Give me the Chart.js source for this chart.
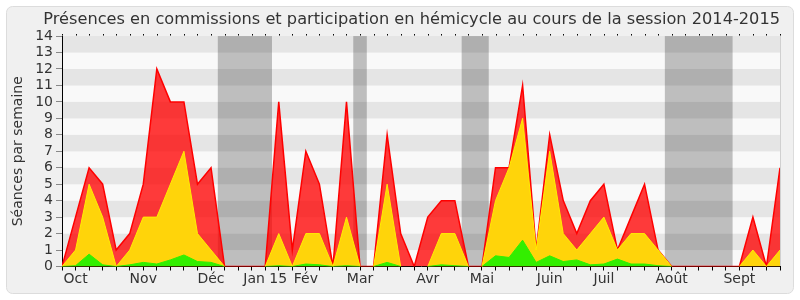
<!DOCTYPE html>
<html>
<head>
<meta charset="utf-8">
<script src="https://cdn.jsdelivr.net/npm/chart.js@4/dist/chart.umd.min.js"></script>
<style>
html,body{margin:0;padding:0;background:#fff;}
canvas{display:block;}
</style>
</head>
<body>
<canvas id="c" width="800" height="300"></canvas>
<script>
// ---- data ----
const weekIndex = Array.from({length: 54}, (_, i) => i);
const monthLabels = {1:'Oct', 6:'Nov', 11:'Déc', 15:'Jan 15', 18:'Fév', 22:'Mar', 27:'Avr', 31:'Mai', 36:'Juin', 40:'Juil', 45:'Août', 50:'Sept'};
const totalSeances = [0,3,6,5,1,2,5,12,10,10,5,6,0,0,0,0,10,1,7,5,0,10,0,0,8,2,0,3,4,4,0,0,6,6,11,1,8,4,2,4,5,1,3,5,1,0,0,0,0,0,0,3,0,6];
const commissionSeances = [0,1,5,3,0,1,3,3,5,7,2,1,0,0,0,0,2,0,2,2,0,3,0,0,5,0,0,0,2,2,0,0,4,6,9,1,7,2,1,2,3,1,2,2,1,0,0,0,0,0,0,1,0,1];
const hemicycleSeances = [0,0.05,0.75,0.1,0,0.1,0.25,0.15,0.4,0.7,0.3,0.25,0,0,0,0,0.05,0,0.15,0.1,0,0.05,0,0,0.25,0,0,0,0.1,0.05,0,0,0.65,0.55,1.6,0.25,0.65,0.3,0.4,0.1,0.15,0.45,0.15,0.15,0.05,0,0,0,0,0,0,0,0,0];
const vacationWeeks = [[11.5,15.5],[21.5,22.5],[29.5,31.5],[44.5,49.5]];
const yTicks = [0,1,2,3,4,5,6,7,8,9,10,11,12,13,14];
const titleText = 'Présences en commissions et participation en hémicycle au cours de la session 2014-2015';
const yTitle = 'Séances par semaine';

const pts = arr => arr.map((v, i) => ({x: weekIndex[i], y: v}));
const hideFlat = ctx => (ctx.p0.parsed.y === 0 && ctx.p1.parsed.y === 0) ? 'rgba(0,0,0,0)' : undefined;

const decor = {
  id: 'decor',
  beforeDraw(chart) {
    const ctx = chart.ctx, a = chart.chartArea;
    const xs = chart.scales.x, ys = chart.scales.y;
    ctx.save();
    // panel
    ctx.fillStyle = '#f0f0f0';
    ctx.strokeStyle = '#dcdcdc';
    ctx.lineWidth = 1;
    ctx.beginPath();
    ctx.roundRect(6.5, 6.5, 787, 287, 6);
    ctx.fill();
    ctx.stroke();
    // stripes
    for (let v = 0; v < 14; v++) {
      const y1 = ys.getPixelForValue(v + 1), y0 = ys.getPixelForValue(v);
      ctx.fillStyle = (v % 2 === 1) ? '#e5e5e5' : '#f9f9f9';
      ctx.fillRect(a.left, y1, a.right - a.left, y0 - y1);
    }
    // vacation bands
    ctx.fillStyle = 'rgba(0,0,0,0.235)';
    vacationWeeks.forEach(([s, e]) => {
      const x0 = xs.getPixelForValue(s), x1 = xs.getPixelForValue(e);
      ctx.fillRect(x0, a.top, x1 - x0, a.bottom - a.top);
    });
    // right border
    ctx.strokeStyle = '#d0d0d0';
    ctx.beginPath();
    ctx.moveTo(a.right + 0.5, a.top);
    ctx.lineTo(a.right + 0.5, a.bottom);
    ctx.stroke();
    // top dotted ticks
    ctx.fillStyle = '#000';
    weekIndex.forEach(i => {
      const x = Math.round(xs.getPixelForValue(i));
      ctx.fillRect(x, a.top - 2, 1, 1.5);
    });
    ctx.restore();
  }
};

new Chart(document.getElementById('c'), {
  type: 'line',
  data: {
    datasets: [
      {label: 'Hémicycle', data: pts(hemicycleSeances), borderColor: '#2ef000', backgroundColor: '#33ee00', borderWidth: 1, fill: 'origin', pointRadius: 0, tension: 0, segment: {borderColor: hideFlat}},
      {label: 'Commissions', data: pts(commissionSeances), borderColor: '#ffee00', backgroundColor: '#ffd40a', borderWidth: 1, fill: 'origin', pointRadius: 0, tension: 0, segment: {borderColor: hideFlat}},
      {label: 'Total', data: pts(totalSeances), borderColor: '#ff0000', backgroundColor: 'rgba(255,0,0,0.77)', borderWidth: 1.5, fill: 'origin', pointRadius: 0, tension: 0}
    ]
  },
  plugins: [decor],
  options: {
    responsive: false,
    animation: false,
    devicePixelRatio: 1,
    layout: {padding: {left: 6, right: 20, top: 0, bottom: 0}},
    plugins: {
      legend: {display: false},
      tooltip: {enabled: false},
      title: {
        display: true, text: titleText, color: '#333', align: 'end',
        font: {family: 'DejaVu Sans', size: 16.2, weight: 'normal', lineHeight: 1.2},
        padding: {top: 10, bottom: 6.6}
      }
    },
    scales: {
      x: {
        type: 'linear', min: 0, max: 53, offset: false,
        afterFit: s => { s.height = 33.5; },
        afterBuildTicks: s => { s.ticks = weekIndex.map(v => ({value: v})); },
        ticks: {
          autoSkip: false, maxRotation: 0, minRotation: 0, padding: 0, color: '#333',
          font: {family: 'DejaVu Sans', size: 14},
          callback: v => monthLabels[v] || ''
        },
        grid: {drawOnChartArea: false, tickLength: 4, tickColor: '#000'},
        border: {color: '#000', width: 1}
      },
      y: {
        min: 0, max: 14,
        afterFit: s => { s.width = 56; },
        afterBuildTicks: s => { s.ticks = yTicks.map(v => ({value: v})); },
        ticks: {autoSkip: false, color: '#333', padding: 3, font: {family: 'DejaVu Sans', size: 14}},
        grid: {drawOnChartArea: false, tickLength: 6, tickColor: '#888'},
        border: {color: '#000', width: 1},
        title: {display: true, text: yTitle, color: '#333', font: {family: 'DejaVu Sans', size: 14}, padding: {top: 4, bottom: 0}}
      }
    }
  }
});
</script>
</body>
</html>
